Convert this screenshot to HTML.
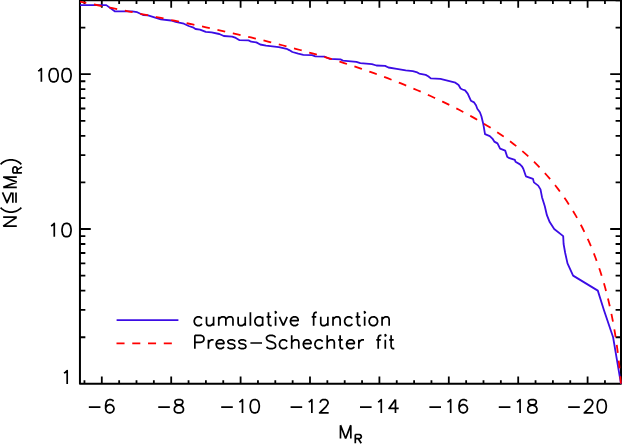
<!DOCTYPE html>
<html><head><meta charset="utf-8"><title>Cumulative luminosity function</title>
<style>
html,body{margin:0;padding:0;background:#fff;font-family:"Liberation Sans",sans-serif;}
svg{display:block;}
</style></head><body>
<svg width="622" height="444" viewBox="0 0 622 444">
<rect width="622" height="444" fill="#fff"/>
<g fill="none" stroke-linejoin="round" stroke-linecap="butt">
<path d="M79.95 0.30H621.00V383.85H79.95Z" stroke="#000" stroke-width="2.0"/>
<path d="M84.45 383.85v-3.70M84.45 0.30v3.70M101.80 383.85v-7.40M101.80 0.30v7.40M119.15 383.85v-3.70M119.15 0.30v3.70M136.50 383.85v-3.70M136.50 0.30v3.70M153.85 383.85v-3.70M153.85 0.30v3.70M171.20 383.85v-7.40M171.20 0.30v7.40M188.55 383.85v-3.70M188.55 0.30v3.70M205.90 383.85v-3.70M205.90 0.30v3.70M223.25 383.85v-3.70M223.25 0.30v3.70M240.60 383.85v-7.40M240.60 0.30v7.40M257.95 383.85v-3.70M257.95 0.30v3.70M275.30 383.85v-3.70M275.30 0.30v3.70M292.65 383.85v-3.70M292.65 0.30v3.70M310.00 383.85v-7.40M310.00 0.30v7.40M327.35 383.85v-3.70M327.35 0.30v3.70M344.70 383.85v-3.70M344.70 0.30v3.70M362.05 383.85v-3.70M362.05 0.30v3.70M379.40 383.85v-7.40M379.40 0.30v7.40M396.75 383.85v-3.70M396.75 0.30v3.70M414.10 383.85v-3.70M414.10 0.30v3.70M431.45 383.85v-3.70M431.45 0.30v3.70M448.80 383.85v-7.40M448.80 0.30v7.40M466.15 383.85v-3.70M466.15 0.30v3.70M483.50 383.85v-3.70M483.50 0.30v3.70M500.85 383.85v-3.70M500.85 0.30v3.70M518.20 383.85v-7.40M518.20 0.30v7.40M535.55 383.85v-3.70M535.55 0.30v3.70M552.90 383.85v-3.70M552.90 0.30v3.70M570.25 383.85v-3.70M570.25 0.30v3.70M587.60 383.85v-7.40M587.60 0.30v7.40M604.95 383.85v-3.70M604.95 0.30v3.70M79.95 337.24h5.40M621.00 337.24h-5.40M79.95 309.97h5.40M621.00 309.97h-5.40M79.95 290.63h5.40M621.00 290.63h-5.40M79.95 275.62h5.40M621.00 275.62h-5.40M79.95 263.36h5.40M621.00 263.36h-5.40M79.95 253.00h5.40M621.00 253.00h-5.40M79.95 244.02h5.40M621.00 244.02h-5.40M79.95 236.10h5.40M621.00 236.10h-5.40M79.95 229.01h10.80M621.00 229.01h-10.80M79.95 182.40h5.40M621.00 182.40h-5.40M79.95 155.13h5.40M621.00 155.13h-5.40M79.95 135.79h5.40M621.00 135.79h-5.40M79.95 120.78h5.40M621.00 120.78h-5.40M79.95 108.52h5.40M621.00 108.52h-5.40M79.95 98.16h5.40M621.00 98.16h-5.40M79.95 89.18h5.40M621.00 89.18h-5.40M79.95 81.26h5.40M621.00 81.26h-5.40M79.95 74.17h10.80M621.00 74.17h-10.80M79.95 27.56h5.40M621.00 27.56h-5.40M79.95 0.29h5.40M621.00 0.29h-5.40" stroke="#000" stroke-width="1.8"/>
<path d="M80.00 5.10L106.30 5.10L114.70 11.30L132.00 11.30L137.20 12.20L143.60 15.20L148.10 15.40L155.20 17.70L160.80 19.30L171.10 20.50L175.60 21.90L183.90 23.70L188.70 26.00L192.90 27.30L195.50 29.00L200.00 29.60L205.80 31.80L211.60 32.40L219.30 34.00L223.80 36.00L232.20 36.60L235.80 37.90L239.60 40.20L248.60 40.40L251.20 41.70L256.40 42.40L260.20 44.50L266.00 45.60L278.90 47.10L286.60 48.80L289.20 50.10L292.40 52.00L298.20 53.60L303.30 54.80L312.10 55.20L315.30 56.30L324.90 56.70L329.40 58.80L340.40 59.30L342.90 60.60L356.40 61.90L360.30 63.20L371.90 64.20L376.40 65.50L385.10 65.90L388.40 67.50L396.70 68.90L405.70 70.40L412.80 71.10L417.30 72.40L419.20 73.60L425.70 74.90L428.20 76.20L430.80 78.40L440.40 78.80L446.40 80.40L455.40 82.70L458.60 85.00L460.60 88.50L462.50 89.50L465.10 90.40L467.70 93.60L470.90 100.70L474.10 102.40L476.00 105.20L477.30 108.70L479.90 112.30L481.40 116.20L483.10 123.20L483.70 126.40L485.00 134.10L489.80 136.10L492.40 138.60L494.30 141.60L497.50 143.40L500.10 148.60L505.20 150.60L507.20 156.70L508.70 157.90L514.90 159.90L515.50 161.80L520.00 164.40L521.90 166.30L523.30 168.80L525.90 176.30L533.00 178.90L533.90 182.40L538.20 185.60L540.50 189.40L542.00 197.20L544.80 206.20L546.90 215.20L549.70 222.10L554.20 229.01L563.20 236.10L563.60 244.02L565.20 253.00L567.50 263.36L573.10 275.62L597.80 290.63L603.90 309.97L613.10 337.24L621.00 383.85" stroke="#3b0ce5" stroke-width="1.8"/>
<path d="M80.07 1.59L84.54 2.51L89.01 3.43L93.49 4.34L97.97 5.25L102.46 6.16L106.94 7.07L111.43 7.97L115.93 8.88L120.42 9.78L124.92 10.68L129.42 11.58L133.92 12.49L138.43 13.39L142.93 14.29L147.44 15.20L151.94 16.11L156.45 17.02L160.96 17.94L165.47 18.85L169.98 19.77L174.49 20.70L179.00 21.63L183.51 22.56L188.02 23.50L192.53 24.45L197.04 25.40L201.55 26.36L206.05 27.33L210.56 28.30L215.06 29.28L219.56 30.27L224.06 31.27L228.56 32.28L233.05 33.30L237.55 34.33L242.04 35.36L246.53 36.41L251.01 37.47L255.49 38.55L259.97 39.63L264.45 40.73L268.92 41.84L273.38 42.96L277.85 44.10L282.31 45.25L286.76 46.41L291.21 47.59L295.65 48.79L300.09 50.00L304.53 51.23L308.96 52.47L313.38 53.73L317.80 55.01L322.21 56.31L326.62 57.63L331.01 58.96L335.41 60.32L339.79 61.69L344.17 63.08L348.54 64.50L352.91 65.93L357.27 67.39L361.62 68.86L365.96 70.36L370.29 71.89L374.62 73.43L378.93 75.00L383.24 76.59L387.54 78.21L391.83 79.85L396.12 81.52L400.39 83.21L404.65 84.93L408.91 86.67L413.15 88.44L417.38 90.24L421.60 92.06L425.82 93.92L430.02 95.80L434.21 97.71L438.39 99.65L442.56 101.62L446.72 103.62L450.86 105.65L454.99 107.71L459.10 109.81L463.19 111.95L467.25 114.13L471.30 116.35L475.31 118.61L479.30 120.91L483.26 123.26L487.18 125.66L491.06 128.11L494.91 130.61L498.72 133.16L502.49 135.76L506.21 138.43L509.89 141.15L513.52 143.93L517.10 146.78L520.62 149.68L524.09 152.66L527.51 155.70L530.86 158.80L534.16 161.96L537.40 165.19L540.58 168.48L543.70 171.83L546.76 175.23L549.75 178.69L552.68 182.21L555.55 185.78L558.35 189.40L561.09 193.08L563.76 196.80L566.36 200.58L568.89 204.40L571.36 208.26L573.75 212.18L576.07 216.13L578.32 220.13L580.50 224.17L582.61 228.25L584.65 232.36L586.62 236.52L588.53 240.70L590.37 244.92L592.14 249.17L593.85 253.45L595.50 257.76L597.09 262.09L598.62 266.45L600.08 270.84L601.49 275.24L602.85 279.66L604.15 284.10L605.39 288.56L606.58 293.04L607.72 297.52L608.80 302.02L609.84 306.53L610.83 311.05L611.77 315.58L612.66 320.11L613.51 324.65L614.31 329.19L615.07 333.74L615.79 338.29L616.47 342.85L617.10 347.40L617.70 351.95L618.26 356.50L618.79 361.04L619.28 365.58L619.73 370.12L620.15 374.64L620.54 379.16L620.90 383.67" stroke="#ff0000" stroke-width="1.8" stroke-dasharray="7.95 7.81" stroke-dashoffset="1.6"/>
<path d="M116.6 320.15H178.4" stroke="#3b0ce5" stroke-width="1.9"/>
<path d="M116.5 343.3H172.2" stroke="#ff0000" stroke-width="1.75" stroke-dasharray="8.05 7.71"/>
<path d="M88.84 407.19L100.45 407.19M113.36 401.47L112.72 400.20L110.78 399.56L109.49 399.56L107.56 400.20L106.26 402.10L105.62 405.28L105.62 408.45L106.26 411.00L107.56 412.26L109.49 412.90L110.14 412.90L112.07 412.26L113.36 411.00L114.01 409.09L114.01 408.45L113.36 406.55L112.07 405.28L110.14 404.64L109.49 404.64L107.56 405.28L106.26 406.55L105.62 408.45M158.24 407.19L169.85 407.19M177.60 399.56L175.66 400.20L175.02 401.47L175.02 402.74L175.66 404.01L176.96 404.64L179.54 405.28L181.47 405.91L182.76 407.19L183.41 408.45L183.41 410.36L182.76 411.63L182.12 412.26L180.18 412.90L177.60 412.90L175.66 412.26L175.02 411.63L174.37 410.36L174.37 408.45L175.02 407.19L176.31 405.91L178.25 405.28L180.83 404.64L182.12 404.01L182.76 402.74L182.76 401.47L182.12 400.20L180.18 399.56L177.60 399.56M221.18 407.19L232.80 407.19M239.25 402.10L240.55 401.47L242.48 399.56L242.48 412.90M254.10 399.56L252.16 400.20L250.87 402.10L250.23 405.28L250.23 407.19L250.87 410.36L252.16 412.26L254.10 412.90L255.39 412.90L257.33 412.26L258.62 410.36L259.27 407.19L259.27 405.28L258.62 402.10L257.33 400.20L255.39 399.56L254.10 399.56M290.58 407.19L302.20 407.19M308.65 402.10L309.95 401.47L311.88 399.56L311.88 412.90M320.27 402.74L320.27 402.10L320.92 400.83L321.56 400.20L322.86 399.56L325.44 399.56L326.73 400.20L327.37 400.83L328.02 402.10L328.02 403.38L327.37 404.64L326.08 406.55L319.63 412.90L328.67 412.90M359.98 407.19L371.60 407.19M378.05 402.10L379.35 401.47L381.28 399.56L381.28 412.90M395.48 399.56L389.03 408.45L398.71 408.45M395.48 399.56L395.48 412.90M429.38 407.19L441.00 407.19M447.45 402.10L448.75 401.47L450.68 399.56L450.68 412.90M466.82 401.47L466.17 400.20L464.24 399.56L462.95 399.56L461.01 400.20L459.72 402.10L459.07 405.28L459.07 408.45L459.72 411.00L461.01 412.26L462.95 412.90L463.59 412.90L465.53 412.26L466.82 411.00L467.47 409.09L467.47 408.45L466.82 406.55L465.53 405.28L463.59 404.64L462.95 404.64L461.01 405.28L459.72 406.55L459.07 408.45M498.78 407.19L510.40 407.19M516.85 402.10L518.15 401.47L520.08 399.56L520.08 412.90M531.06 399.56L529.12 400.20L528.47 401.47L528.47 402.74L529.12 404.01L530.41 404.64L532.99 405.28L534.93 405.91L536.22 407.19L536.87 408.45L536.87 410.36L536.22 411.63L535.57 412.26L533.64 412.90L531.06 412.90L529.12 412.26L528.47 411.63L527.83 410.36L527.83 408.45L528.47 407.19L529.76 405.91L531.70 405.28L534.28 404.64L535.57 404.01L536.22 402.74L536.22 401.47L535.57 400.20L533.64 399.56L531.06 399.56M568.18 407.19L579.80 407.19M584.96 402.74L584.96 402.10L585.61 400.83L586.25 400.20L587.55 399.56L590.13 399.56L591.42 400.20L592.06 400.83L592.71 402.10L592.71 403.38L592.06 404.64L590.77 406.55L584.32 412.90L593.35 412.90M601.10 399.56L599.16 400.20L597.87 402.10L597.23 405.28L597.23 407.19L597.87 410.36L599.16 412.26L601.10 412.90L602.39 412.90L604.33 412.26L605.62 410.36L606.26 407.19L606.26 405.28L605.62 402.10L604.33 400.20L602.39 399.56L601.10 399.56M38.14 71.08L39.43 70.44L41.37 68.54L41.37 81.87M52.99 68.54L51.05 69.17L49.76 71.08L49.12 74.25L49.12 76.16L49.76 79.33L51.05 81.24L52.99 81.87L54.28 81.87L56.22 81.24L57.51 79.33L58.15 76.16L58.15 74.25L57.51 71.08L56.22 69.17L54.28 68.54L52.99 68.54M65.90 68.54L63.96 69.17L62.67 71.08L62.03 74.25L62.03 76.16L62.67 79.33L63.96 81.24L65.90 81.87L67.19 81.87L69.13 81.24L70.42 79.33L71.06 76.16L71.06 74.25L70.42 71.08L69.13 69.17L67.19 68.54L65.90 68.54M51.05 225.92L52.34 225.28L54.28 223.38L54.28 236.71M65.90 223.38L63.96 224.01L62.67 225.92L62.03 229.09L62.03 231.00L62.67 234.17L63.96 236.08L65.90 236.71L67.19 236.71L69.13 236.08L70.42 234.17L71.06 231.00L71.06 229.09L70.42 225.92L69.13 224.01L67.19 223.38L65.90 223.38M63.96 373.10L65.25 372.47L67.19 370.56L67.19 383.90M340.48 425.17L340.48 438.50M340.48 425.17L345.65 438.50M350.81 425.17L345.65 438.50M350.81 425.17L350.81 438.50M355.30 434.50L355.30 443.30M355.30 434.50L359.13 434.50L360.41 434.92L360.83 435.34L361.26 436.18L361.26 437.01L360.83 437.85L360.41 438.27L359.13 438.69L355.30 438.69M358.28 438.69L361.26 443.30M3.15 226.14L16.80 226.14M3.15 226.14L16.80 217.18M3.15 217.18L16.80 217.18M0.55 207.58L1.85 208.86L3.80 210.14L6.40 211.42L9.65 212.06L12.25 212.06L15.50 211.42L18.10 210.14L20.05 208.86L21.35 207.58M2.50 192.41L7.05 202.65L11.60 192.41M12.84 202.65L12.84 192.41M16.02 202.65L16.02 192.41M3.15 187.29L16.80 187.29M3.15 187.29L16.80 182.17M3.15 177.05L16.80 182.17M3.15 177.05L16.80 177.05M12.89 172.80L21.90 172.80M12.89 172.80L12.89 169.00L13.32 167.73L13.75 167.31L14.61 166.89L15.46 166.89L16.32 167.31L16.75 167.73L17.18 169.00L17.18 172.80M17.18 169.85L21.90 166.89M0.55 164.30L1.85 163.02L3.80 161.74L6.40 160.46L9.65 159.82L12.25 159.82L15.50 160.46L18.10 161.74L20.05 163.02L21.35 164.30M201.98 318.71L200.69 317.44L199.40 316.81L197.46 316.81L196.17 317.44L194.88 318.71L194.24 320.62L194.24 321.89L194.88 323.80L196.17 325.06L197.46 325.70L199.40 325.70L200.69 325.06L201.98 323.80M206.50 316.81L206.50 323.16L207.15 325.06L208.44 325.70L210.37 325.70L211.67 325.06L213.60 323.16M213.60 316.81L213.60 325.70M218.77 316.81L218.77 325.70M218.77 319.35L220.70 317.44L221.99 316.81L223.93 316.81L225.22 317.44L225.87 319.35L225.87 325.70M225.87 319.35L227.80 317.44L229.09 316.81L231.03 316.81L232.32 317.44L232.97 319.35L232.97 325.70M238.13 316.81L238.13 323.16L238.78 325.06L240.07 325.70L242.00 325.70L243.29 325.06L245.23 323.16M245.23 316.81L245.23 325.70M250.40 312.37L250.40 325.70M262.66 316.81L262.66 325.70M262.66 318.71L261.37 317.44L260.08 316.81L258.14 316.81L256.85 317.44L255.56 318.71L254.91 320.62L254.91 321.89L255.56 323.80L256.85 325.06L258.14 325.70L260.08 325.70L261.37 325.06L262.66 323.80M268.47 312.37L268.47 323.16L269.11 325.06L270.41 325.70L271.70 325.70M266.53 316.81L271.05 316.81M274.92 312.37L275.57 313.00L276.22 312.37L275.57 311.73L274.92 312.37M275.57 316.81L275.57 325.70M279.44 316.81L283.32 325.70M287.19 316.81L283.32 325.70M290.42 320.62L298.16 320.62L298.16 319.35L297.52 318.08L296.87 317.44L295.58 316.81L293.64 316.81L292.35 317.44L291.06 318.71L290.42 320.62L290.42 321.89L291.06 323.80L292.35 325.06L293.64 325.70L295.58 325.70L296.87 325.06L298.16 323.80M316.88 312.37L315.59 312.37L314.30 313.00L313.65 314.90L313.65 325.70M311.72 316.81L316.24 316.81M320.75 316.81L320.75 323.16L321.40 325.06L322.69 325.70L324.63 325.70L325.92 325.06L327.86 323.16M327.86 316.81L327.86 325.70M333.02 316.81L333.02 325.70M333.02 319.35L334.96 317.44L336.25 316.81L338.18 316.81L339.47 317.44L340.12 319.35L340.12 325.70M352.38 318.71L351.09 317.44L349.80 316.81L347.87 316.81L346.57 317.44L345.28 318.71L344.64 320.62L344.64 321.89L345.28 323.80L346.57 325.06L347.87 325.70L349.80 325.70L351.09 325.06L352.38 323.80M357.55 312.37L357.55 323.16L358.19 325.06L359.48 325.70L360.78 325.70M355.61 316.81L360.13 316.81M364.00 312.37L364.65 313.00L365.29 312.37L364.65 311.73L364.00 312.37M364.65 316.81L364.65 325.70M372.39 316.81L371.10 317.44L369.81 318.71L369.17 320.62L369.17 321.89L369.81 323.80L371.10 325.06L372.39 325.70L374.33 325.70L375.62 325.06L376.91 323.80L377.56 321.89L377.56 320.62L376.91 318.71L375.62 317.44L374.33 316.81L372.39 316.81M382.08 316.81L382.08 325.70M382.08 319.35L384.01 317.44L385.30 316.81L387.24 316.81L388.53 317.44L389.18 319.35L389.18 325.70M194.88 335.37L194.88 348.70M194.88 335.37L200.69 335.37L202.63 336.00L203.27 336.63L203.92 337.90L203.92 339.81L203.27 341.08L202.63 341.71L200.69 342.35L194.88 342.35M208.44 339.81L208.44 348.70M208.44 343.62L209.08 341.71L210.37 340.44L211.67 339.81L213.60 339.81M216.18 343.62L223.93 343.62L223.93 342.35L223.28 341.08L222.64 340.44L221.35 339.81L219.41 339.81L218.12 340.44L216.83 341.71L216.18 343.62L216.18 344.89L216.83 346.80L218.12 348.06L219.41 348.70L221.35 348.70L222.64 348.06L223.93 346.80M234.90 341.71L234.26 340.44L232.32 339.81L230.38 339.81L228.45 340.44L227.80 341.71L228.45 342.99L229.74 343.62L232.97 344.25L234.26 344.89L234.90 346.16L234.90 346.80L234.26 348.06L232.32 348.70L230.38 348.70L228.45 348.06L227.80 346.80M245.88 341.71L245.23 340.44L243.29 339.81L241.36 339.81L239.42 340.44L238.78 341.71L239.42 342.99L240.71 343.62L243.94 344.25L245.23 344.89L245.88 346.16L245.88 346.80L245.23 348.06L243.29 348.70L241.36 348.70L239.42 348.06L238.78 346.80M250.40 342.99L262.01 342.99M275.57 337.27L274.28 336.00L272.34 335.37L269.76 335.37L267.82 336.00L266.53 337.27L266.53 338.54L267.18 339.81L267.82 340.44L269.11 341.08L272.99 342.35L274.28 342.99L274.92 343.62L275.57 344.89L275.57 346.80L274.28 348.06L272.34 348.70L269.76 348.70L267.82 348.06L266.53 346.80M287.19 341.71L285.90 340.44L284.61 339.81L282.67 339.81L281.38 340.44L280.09 341.71L279.44 343.62L279.44 344.89L280.09 346.80L281.38 348.06L282.67 348.70L284.61 348.70L285.90 348.06L287.19 346.80M291.71 335.37L291.71 348.70M291.71 342.35L293.64 340.44L294.93 339.81L296.87 339.81L298.16 340.44L298.81 342.35L298.81 348.70M303.33 343.62L311.07 343.62L311.07 342.35L310.43 341.08L309.78 340.44L308.49 339.81L306.55 339.81L305.26 340.44L303.97 341.71L303.33 343.62L303.33 344.89L303.97 346.80L305.26 348.06L306.55 348.70L308.49 348.70L309.78 348.06L311.07 346.80M322.69 341.71L321.40 340.44L320.11 339.81L318.17 339.81L316.88 340.44L315.59 341.71L314.94 343.62L314.94 344.89L315.59 346.80L316.88 348.06L318.17 348.70L320.11 348.70L321.40 348.06L322.69 346.80M327.21 335.37L327.21 348.70M327.21 342.35L329.15 340.44L330.44 339.81L332.37 339.81L333.66 340.44L334.31 342.35L334.31 348.70M340.12 335.37L340.12 346.16L340.76 348.06L342.06 348.70L343.35 348.70M338.18 339.81L342.70 339.81M346.57 343.62L354.32 343.62L354.32 342.35L353.68 341.08L353.03 340.44L351.74 339.81L349.80 339.81L348.51 340.44L347.22 341.71L346.57 343.62L346.57 344.89L347.22 346.80L348.51 348.06L349.80 348.70L351.74 348.70L353.03 348.06L354.32 346.80M358.84 339.81L358.84 348.70M358.84 343.62L359.48 341.71L360.78 340.44L362.07 339.81L364.00 339.81M381.43 335.37L380.14 335.37L378.85 336.00L378.20 337.90L378.20 348.70M376.27 339.81L380.79 339.81M384.66 335.37L385.30 336.00L385.95 335.37L385.30 334.73L384.66 335.37M385.30 339.81L385.30 348.70M391.11 335.37L391.11 346.16L391.76 348.06L393.05 348.70L394.34 348.70M389.18 339.81L393.70 339.81" stroke="#000" stroke-width="1.7"/>
</g>
</svg>
</body></html>
